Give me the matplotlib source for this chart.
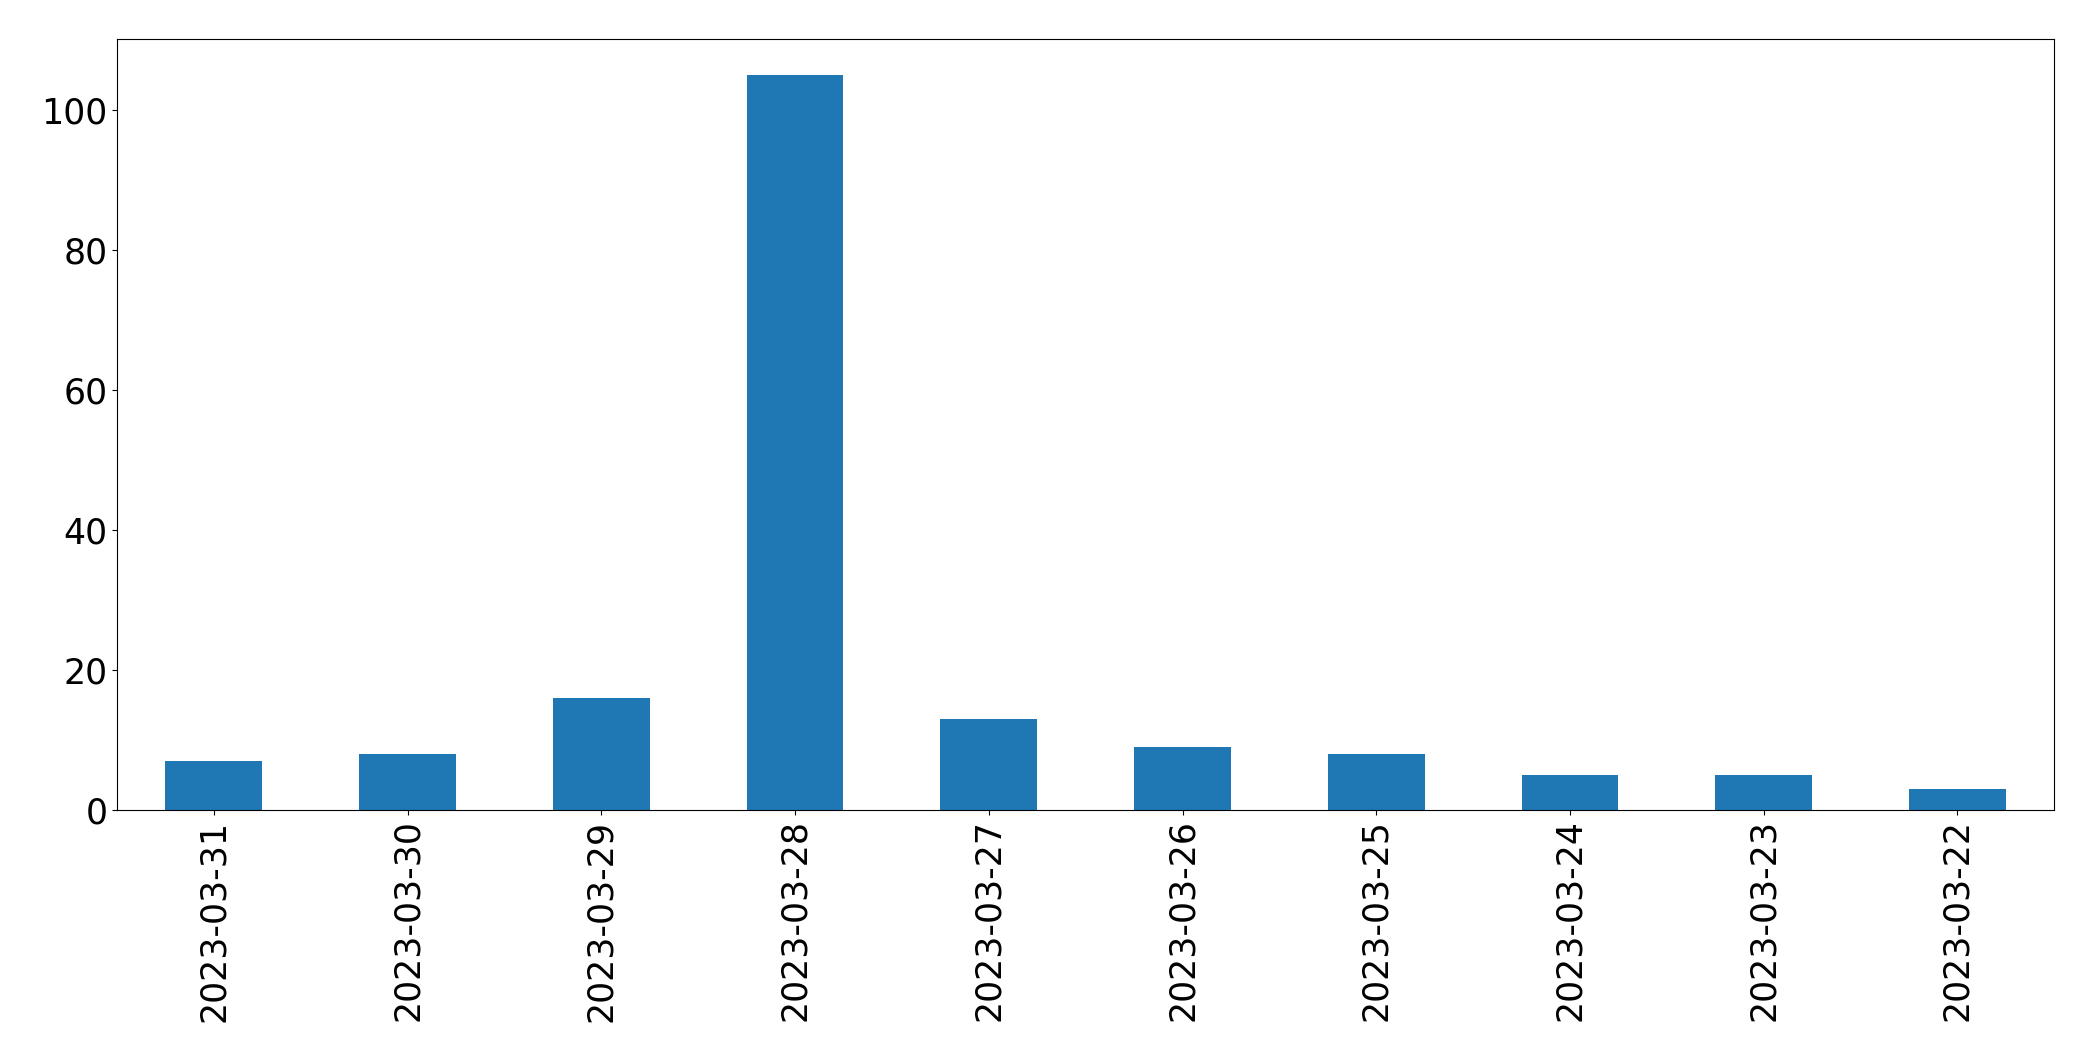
import matplotlib
matplotlib.use("Agg")
import matplotlib.pyplot as plt
import pandas as pd

dates = ["2023-03-31", "2023-03-30", "2023-03-29", "2023-03-28", "2023-03-27",
         "2023-03-26", "2023-03-25", "2023-03-24", "2023-03-23", "2023-03-22"]
counts = [7, 8, 16, 105, 13, 9, 8, 5, 5, 3]

fig = plt.figure(figsize=(20.93, 10.61), dpi=100)
ax = fig.add_axes([0.0559, 0.2368, 0.9256, 0.7267])
s = pd.Series(counts, index=dates)
s.plot(kind="bar", ax=ax, color="#1f77b4", width=0.5)
ax.tick_params(axis="both", labelsize=25)
ax.set_yticks([0, 20, 40, 60, 80, 100])
fig.savefig("out.png", dpi=100)
